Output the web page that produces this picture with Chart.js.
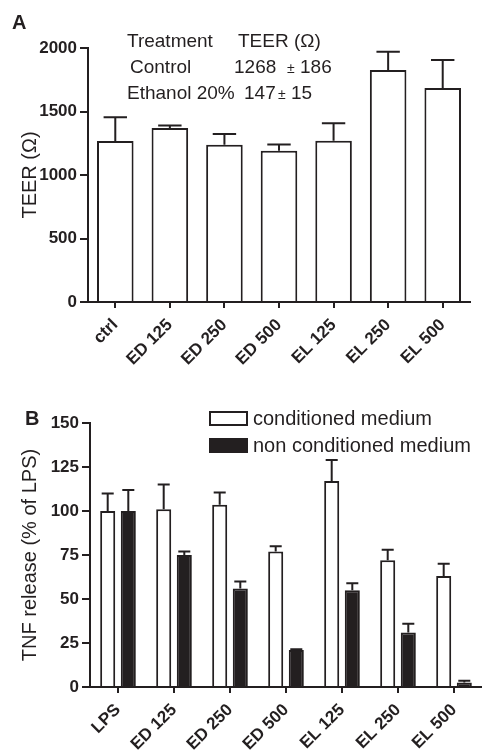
<!DOCTYPE html>
<html>
<head>
<meta charset="utf-8">
<script src="https://cdn.jsdelivr.net/npm/chart.js@4.4.0/dist/chart.umd.min.js"></script>
<style>
  html, body { margin: 0; padding: 0; background: #fff; }
  #boxA { position: absolute; left: 0; top: 0; width: 482px; height: 375px; }
  #boxB { position: absolute; left: 0; top: 375px; width: 482px; height: 380px; }
</style>
</head>
<body>
<div id="boxA"><canvas id="chartA"></canvas></div>
<div id="boxB"><canvas id="chartB"></canvas></div>
<script>
// panel A - TEER
var teerLabels = ["ctrl", "ED 125", "ED 250", "ED 500", "EL 125", "EL 250", "EL 500"];
var teerValues = [1268, 1370, 1239, 1191, 1270, 1827, 1685];
var teerErrors = [186, 20, 84, 50, 137, 144, 221];
var teerTicks = [0, 500, 1000, 1500, 2000];

// panel B - TNF release
var tnfLabels = ["LPS", "ED 125", "ED 250", "ED 500", "EL 125", "EL 250", "EL 500"];
var condValues = [100, 101, 103.5, 77, 117, 72, 63];
var condErrors = [10, 14, 7, 3, 12, 6, 7];
var nonCondValues = [100, 75, 56, 21, 55, 31, 2.5];
var nonCondErrors = [12, 2, 4, 0.5, 4, 5, 1];
var tnfTicks = [0, 25, 50, 75, 100, 125, 150];

var ink = "#231f20";
Chart.defaults.font.family = "'Liberation Sans', Arial, sans-serif";
Chart.defaults.color = ink;

// upper error bars with caps
var errorBars = {
  id: "errorBars",
  afterDatasetsDraw: function (chart, args, opts) {
    var ctx = chart.ctx;
    var y = chart.scales.y;
    ctx.save();
    ctx.strokeStyle = ink;
    ctx.lineWidth = 2;
    chart.data.datasets.forEach(function (ds, i) {
      chart.getDatasetMeta(i).data.forEach(function (bar, j) {
        var top = y.getPixelForValue(ds.data[j] + ds.errors[j]);
        var half = bar.width * opts.cap / 2;
        ctx.beginPath();
        ctx.moveTo(bar.x, bar.y);
        ctx.lineTo(bar.x, top);
        ctx.moveTo(bar.x - half, top);
        ctx.lineTo(bar.x + half, top);
        ctx.stroke();
      });
    });
    ctx.restore();
  }
};

// panel letters, the TEER table and the legend
var notes = {
  id: "notes",
  afterDraw: function (chart, args, opts) {
    var ctx = chart.ctx;
    ctx.save();
    ctx.fillStyle = ink;
    ctx.textBaseline = "alphabetic";
    ctx.font = "bold 20px 'Liberation Sans', Arial";
    ctx.fillText(opts.letter[0], opts.letter[1], opts.letter[2]);
    (opts.texts || []).forEach(function (t) {
      ctx.font = (t[3] || 19) + "px 'Liberation Sans', Arial";
      ctx.fillText(t[0], t[1], t[2]);
    });
    if (opts.legend) {
      chart.data.datasets.forEach(function (ds, i) {
        var by = opts.legend.y + i * opts.legend.gap;
        ctx.fillStyle = ds.backgroundColor;
        ctx.fillRect(opts.legend.x, by, 37, 13);
        ctx.strokeStyle = ink;
        ctx.lineWidth = 2;
        ctx.strokeRect(opts.legend.x, by, 37, 13);
        ctx.fillStyle = ink;
        ctx.font = "20px 'Liberation Sans', Arial";
        ctx.textBaseline = "middle";
        ctx.fillText(ds.label, opts.legend.x + 43, by + 7);
      });
    }
    ctx.restore();
  }
};

function yAxis(ticks, max, title, width) {
  return {
    min: 0,
    max: max,
    afterBuildTicks: function (s) {
      s.ticks = ticks.map(function (v) { return { value: v }; });
    },
    afterFit: function (s) { s.width = width; },
    ticks: {
      font: { size: 17, weight: "bold" },
      padding: 3,
      callback: function (v) { return String(v); }
    },
    grid: { drawOnChartArea: false, tickLength: 8, lineWidth: 2, color: ink },
    border: { color: ink, width: 2 },
    title: { display: true, text: title, font: { size: 20 }, padding: { top: 18, bottom: 0 } }
  };
}

function xAxis(height) {
  return {
    afterFit: function (s) { s.height = height; },
    ticks: { font: { size: 17, weight: "bold" }, minRotation: 45, maxRotation: 45, autoSkip: false, padding: 7 },
    grid: { offset: false, drawOnChartArea: false, tickLength: 6, lineWidth: 2, color: ink },
    border: { color: ink, width: 2 }
  };
}

new Chart(document.getElementById("chartA").getContext("2d"), {
  type: "bar",
  data: {
    labels: teerLabels,
    datasets: [
      {
        label: "TEER",
        data: teerValues,
        errors: teerErrors,
        backgroundColor: "#ffffff",
        borderColor: ink,
        borderWidth: 2,
        categoryPercentage: 1,
        barPercentage: 0.67
      }
    ]
  },
  options: {
    responsive: true,
    maintainAspectRatio: false,
    animation: false,
    layout: { padding: { top: 48, right: 12, left: 0, bottom: 0 } },
    scales: {
      x: xAxis(73),
      y: yAxis(teerTicks, 2000, "TEER (\u03A9)", 88)
    },
    plugins: {
      legend: { display: false },
      tooltip: { enabled: false },
      errorBars: { cap: 0.64 },
      notes: {
        letter: ["A", 12, 29],
        texts: [
          ["Treatment", 127, 47], ["TEER (\u03A9)", 238, 47],
          ["Control", 130, 73], ["1268", 234, 73], ["\u00B1", 287, 73, 14], ["186", 300, 73],
          ["Ethanol 20%", 127, 99], ["147", 244, 99], ["\u00B1", 278, 99, 14], ["15", 291, 99]
        ]
      }
    }
  },
  plugins: [errorBars, notes]
});

new Chart(document.getElementById("chartB").getContext("2d"), {
  type: "bar",
  data: {
    labels: tnfLabels,
    datasets: [
      {
        label: "conditioned medium",
        data: condValues,
        errors: condErrors,
        backgroundColor: "#ffffff",
        borderColor: ink,
        borderWidth: 2,
        categoryPercentage: 0.736,
        barPercentage: 0.73
      },
      {
        label: "non conditioned medium",
        data: nonCondValues,
        errors: nonCondErrors,
        backgroundColor: ink,
        borderColor: ink,
        borderWidth: 2,
        categoryPercentage: 0.736,
        barPercentage: 0.73
      }
    ]
  },
  options: {
    responsive: true,
    maintainAspectRatio: false,
    animation: false,
    layout: { padding: { top: 48, right: 0, left: 0, bottom: 0 } },
    scales: {
      x: xAxis(68),
      y: yAxis(tnfTicks, 150, "TNF release (% of LPS)", 90)
    },
    plugins: {
      legend: { display: false },
      tooltip: { enabled: false },
      errorBars: { cap: 0.8 },
      notes: {
        letter: ["B", 25, 50],
        legend: { x: 210, y: 37, gap: 27 }
      }
    }
  },
  plugins: [errorBars, notes]
});
</script>
</body>
</html>
